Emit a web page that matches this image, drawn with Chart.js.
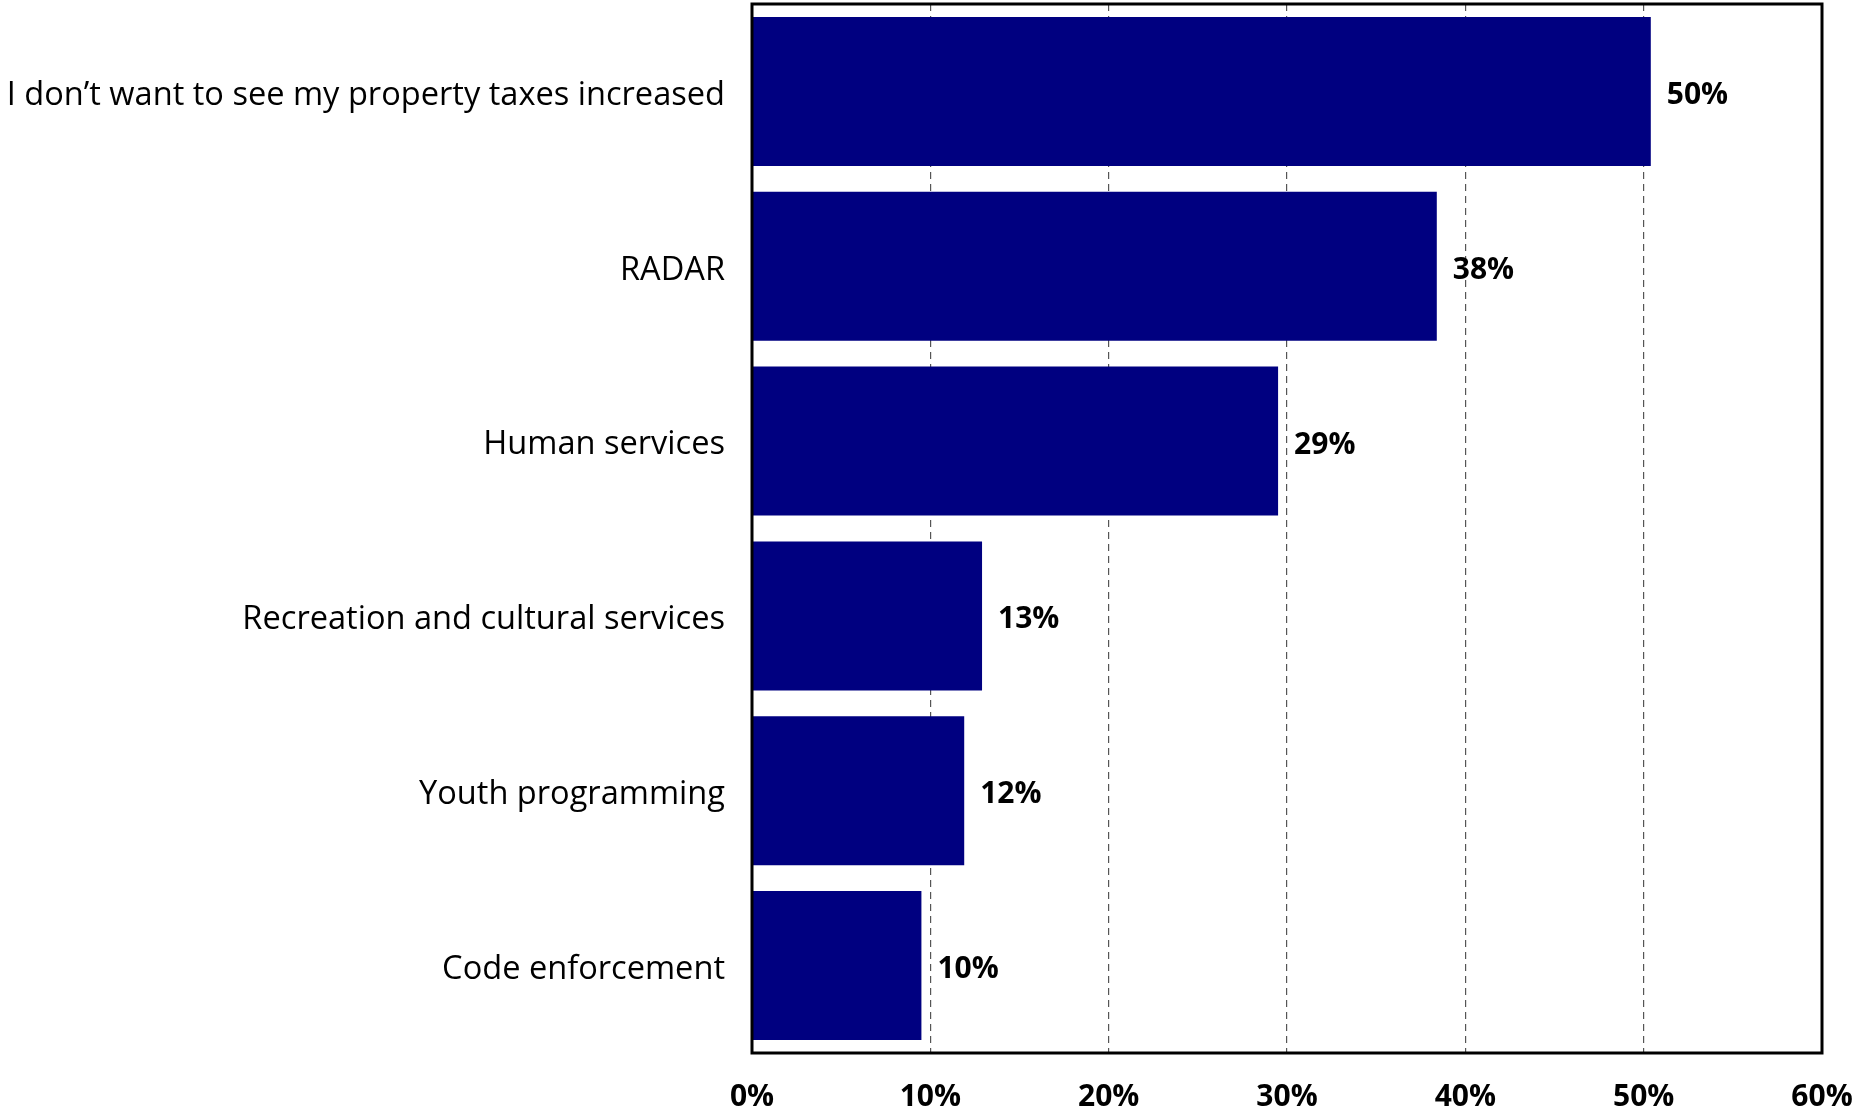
<!DOCTYPE html>
<html>
<head>
<meta charset="utf-8">
<script src="https://cdn.jsdelivr.net/npm/chart.js@4.4.1/dist/chart.umd.min.js"></script>
<style>
  html, body { margin: 0; padding: 0; background: #fff; }
  #wrap { width: 1856px; height: 1115px; }
</style>
</head>
<body>
<div id="wrap"><canvas id="chart"></canvas></div>
<script>
// values (percent of respondents)
const categories = [
  'I don\u2019t want to see my property taxes increased',
  'RADAR',
  'Human services',
  'Recreation and cultural services',
  'Youth programming',
  'Code enforcement',
];
const shares = [50.4, 38.4, 29.5, 12.9, 11.9, 9.5];
const shareLabels = ['50%', '38%', '29%', '13%', '12%', '10%'];
const xTicks = [0, 10, 20, 30, 40, 50, 60];

const FONT = '"Open Sans", sans-serif';

// frame round the plot area plus bold value labels at the bar ends
const framePlugin = {
  id: 'frame',
  afterDatasetsDraw(chart) {
    const { ctx, chartArea: a } = chart;
    ctx.save();
    ctx.font = 'bold 30px ' + FONT;
    ctx.fillStyle = '#000';
    ctx.textBaseline = 'middle';
    chart.getDatasetMeta(0).data.forEach((bar, i) => {
      ctx.fillText(shareLabels[i], bar.x + 16, bar.y + 4);
    });
    ctx.strokeStyle = '#000';
    ctx.lineWidth = 3;
    ctx.strokeRect(a.left, a.top, a.right - a.left, a.bottom - a.top);
    ctx.restore();
  },
};

new Chart(document.getElementById('chart'), {
  type: 'bar',
  data: {
    labels: categories,
    datasets: [{
      data: shares,
      backgroundColor: '#000080',
      borderWidth: 0,
      categoryPercentage: 0.852,
      barPercentage: 1,
    }],
  },
  options: {
    indexAxis: 'y',
    responsive: true, maintainAspectRatio: false,
    animation: false,
    layout: { padding: { top: 4, right: 34, left: 0, bottom: 0 } },
    plugins: { legend: { display: false }, tooltip: { enabled: false } },
    scales: {
      x: {
        min: 0, max: 60,
        afterBuildTicks: axis => { axis.ticks = xTicks.map(v => ({ value: v })); },
        afterFit: axis => {
          axis.height = 62;
          axis.paddingLeft = 0; axis.paddingRight = 0;
        },
        ticks: {
          callback: v => v + '%',
          font: { family: FONT, size: 30, weight: 'bold' },
          color: '#000',
          padding: 26,
          maxRotation: 0,
        },
        grid: {
          drawTicks: false,
          color: ctx => (ctx.tick && (ctx.tick.value === 0 || ctx.tick.value === 60)) ? 'rgba(0,0,0,0)' : '#555',
          lineWidth: 1.2,
        },
        border: { display: false, dash: [7, 5] },
      },
      y: {
        afterFit: axis => {
          axis.width = 752;
          axis.paddingTop = 0; axis.paddingBottom = 0;
        },
        ticks: {
          font: { family: FONT, size: 32.6 },
          color: '#000',
          padding: 27,
          labelOffset: 4,
        },
        grid: { display: false, drawTicks: false },
        border: { display: false },
      },
    },
  },
  plugins: [framePlugin],
});
</script>
</body>
</html>
